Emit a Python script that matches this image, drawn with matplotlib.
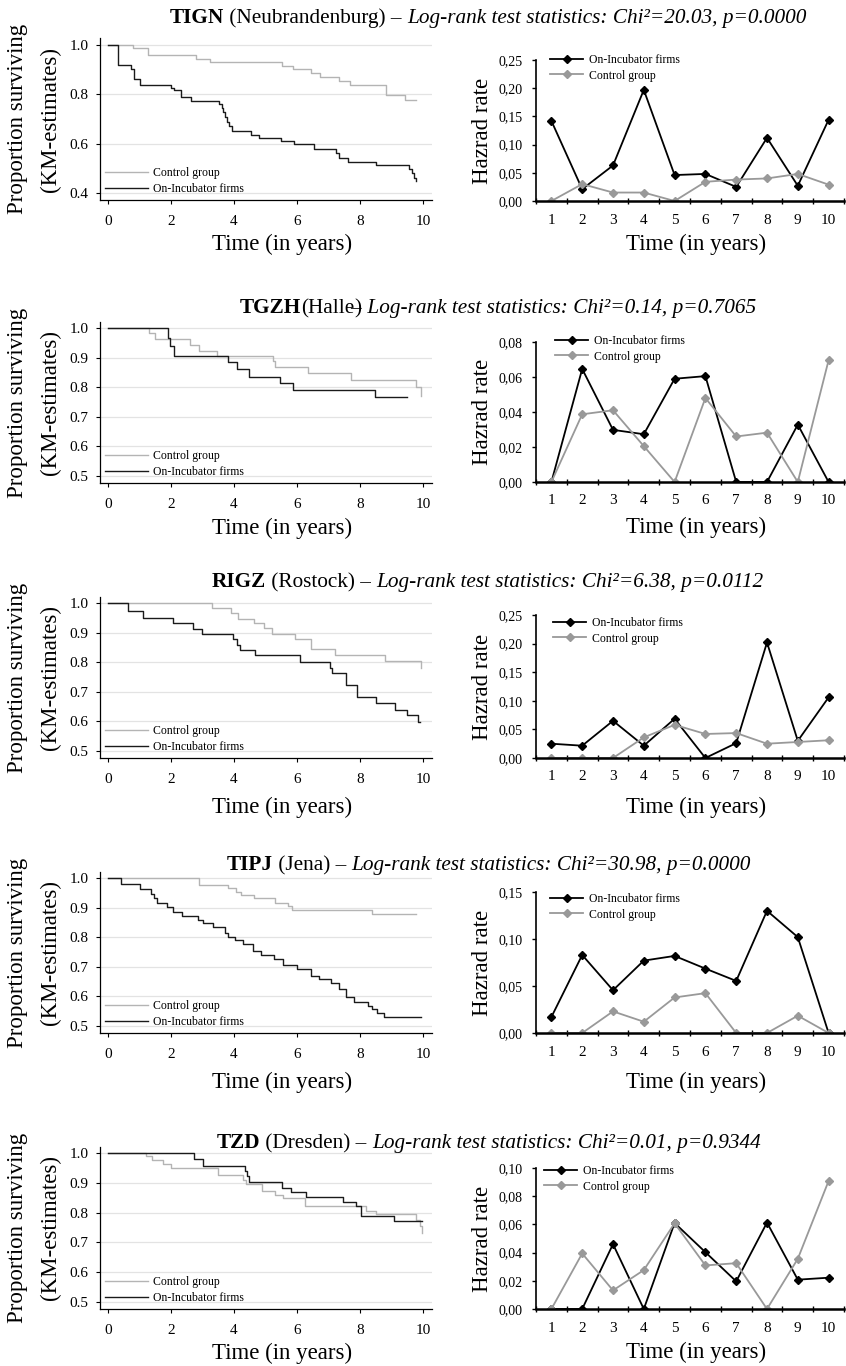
import matplotlib
matplotlib.use("Agg")
import matplotlib.pyplot as plt
from matplotlib.ticker import FuncFormatter, MultipleLocator, FixedLocator

plt.rcParams["font.family"] = ["Liberation Serif", "DejaVu Serif"]

W, H = 846, 1366

# ── Data ──────────────────────────────────────────────────────────────────────
YEARS = [1, 2, 3, 4, 5, 6, 7, 8, 9, 10]

# TIGN (Neubrandenburg)
TIGN_CTRL_T = [0, 0.80, 1.28, 2.81, 3.23, 5.53, 5.87, 6.45, 6.73, 7.34, 7.68, 8.82, 9.43, 9.79]
TIGN_CTRL_S = [1.0, 0.989, 0.958, 0.945, 0.931, 0.915, 0.901, 0.885, 0.869, 0.853, 0.836, 0.799, 0.777, 0.777]
TIGN_INC_T = [0, 0.33, 0.75, 0.83, 1.01, 1.99, 2.09, 2.31, 2.63, 3.54, 3.61, 3.66, 3.73, 3.78, 3.86,
              3.95, 4.55, 4.81, 5.50, 5.90, 6.55, 7.24, 7.34, 7.61, 8.50, 9.56, 9.66, 9.71, 9.77]
TIGN_INC_S = [1.0, 0.918, 0.901, 0.863, 0.839, 0.827, 0.818, 0.791, 0.774, 0.759, 0.746, 0.728, 0.709,
              0.688, 0.672, 0.653, 0.636, 0.624, 0.611, 0.597, 0.580, 0.564, 0.543, 0.526, 0.512,
              0.496, 0.480, 0.462, 0.449]
TIGN_HAZ_INC = [0.142, 0.021, 0.063, 0.197, 0.046, 0.048, 0.025, 0.112, 0.027, 0.144]
TIGN_HAZ_CTRL = [0.0, 0.030, 0.015, 0.015, 0.0, 0.034, 0.038, 0.040, 0.048, 0.029]

# TGZH (Halle)
TGZH_CTRL_T = [0, 1.31, 1.50, 2.61, 2.89, 3.45, 5.23, 5.30, 6.34, 7.71, 9.79, 9.95]
TGZH_CTRL_S = [1.0, 0.983, 0.964, 0.944, 0.924, 0.907, 0.887, 0.868, 0.848, 0.825, 0.800, 0.771]
TGZH_INC_T = [0, 1.90, 1.97, 2.10, 3.80, 4.09, 4.49, 5.46, 5.88, 8.47, 9.49]
TGZH_INC_S = [1.0, 0.966, 0.940, 0.907, 0.884, 0.861, 0.834, 0.814, 0.789, 0.766, 0.766]
TGZH_HAZ_INC = [0.0, 0.0646, 0.0298, 0.0273, 0.059, 0.0605, 0.0, 0.0, 0.0328, 0.0]
TGZH_HAZ_CTRL = [0.0, 0.0387, 0.041, 0.0205, 0.0, 0.048, 0.026, 0.0282, 0.0, 0.0696]

# RIGZ (Rostock)
RIGZ_CTRL_T = [0, 3.32, 3.90, 4.12, 4.65, 4.95, 5.20, 5.93, 6.46, 7.20, 8.79, 9.95]
RIGZ_CTRL_S = [1.0, 0.983, 0.966, 0.947, 0.932, 0.915, 0.895, 0.879, 0.844, 0.825, 0.805, 0.779]
RIGZ_INC_T = [0, 0.65, 1.11, 2.06, 2.69, 3.00, 3.98, 4.10, 4.19, 4.67, 6.10, 7.05, 7.12, 7.57,
              7.92, 8.52, 9.10, 9.49, 9.84, 9.92]
RIGZ_INC_S = [1.0, 0.974, 0.951, 0.932, 0.913, 0.895, 0.878, 0.859, 0.842, 0.823, 0.800, 0.781,
              0.762, 0.723, 0.681, 0.661, 0.640, 0.621, 0.598, 0.598]
RIGZ_HAZ_INC = [0.025, 0.0215, 0.065, 0.0215, 0.0686, 0.0, 0.026, 0.202, 0.030, 0.106]
RIGZ_HAZ_CTRL = [0.0, 0.0, 0.0, 0.036, 0.058, 0.042, 0.0436, 0.025, 0.028, 0.031]

# TIPJ (Jena)
TIPJ_CTRL_T = [0, 2.90, 3.81, 4.07, 4.23, 4.63, 5.32, 5.71, 5.84, 8.40, 9.77]
TIPJ_CTRL_S = [1.0, 0.976, 0.965, 0.954, 0.942, 0.931, 0.916, 0.906, 0.893, 0.878, 0.878]
TIPJ_INC_T = [0, 0.41, 1.02, 1.36, 1.45, 1.57, 1.87, 2.08, 2.34, 2.87, 3.03, 3.35, 3.72, 3.82,
              4.02, 4.28, 4.60, 4.86, 5.28, 5.55, 6.02, 6.45, 6.71, 7.08, 7.34, 7.55, 7.82,
              8.27, 8.40, 8.55, 8.77, 9.93]
TIPJ_INC_S = [1.0, 0.981, 0.964, 0.946, 0.932, 0.917, 0.901, 0.886, 0.873, 0.858, 0.847, 0.835,
              0.813, 0.801, 0.789, 0.778, 0.755, 0.739, 0.728, 0.705, 0.691, 0.668, 0.658,
              0.647, 0.625, 0.599, 0.582, 0.568, 0.557, 0.545, 0.532, 0.532]
TIPJ_HAZ_INC = [0.017, 0.083, 0.0455, 0.077, 0.082, 0.0685, 0.0554, 0.130, 0.102, 0.0]
TIPJ_HAZ_CTRL = [0.0, 0.0, 0.023, 0.012, 0.0378, 0.0424, 0.0, 0.0, 0.0184, 0.0]

# TZD (Dresden)
TZD_CTRL_T = [0, 1.20, 1.39, 1.76, 2.00, 3.50, 4.28, 4.40, 4.88, 5.30, 5.56, 6.25, 8.20, 8.52,
              9.79, 9.92, 9.98]
TZD_CTRL_S = [1.0, 0.989, 0.977, 0.963, 0.949, 0.927, 0.910, 0.896, 0.874, 0.859, 0.848, 0.821,
              0.806, 0.795, 0.775, 0.755, 0.730]
TZD_INC_T = [0, 2.75, 3.03, 4.35, 4.43, 4.48, 5.54, 5.80, 6.28, 7.47, 7.89, 8.03, 9.08, 9.98]
TZD_INC_S = [1.0, 0.979, 0.956, 0.941, 0.922, 0.902, 0.883, 0.868, 0.853, 0.836, 0.821, 0.789,
             0.772, 0.772]
TZD_HAZ_INC = [0.0, 0.0, 0.046, 0.0, 0.061, 0.0403, 0.0196, 0.0613, 0.0208, 0.0222]
TZD_HAZ_CTRL = [0.0, 0.0394, 0.0132, 0.0276, 0.0608, 0.0309, 0.0325, 0.0, 0.0356, 0.0908]

CENTRES = ["TIGN", "TGZH", "RIGZ", "TIPJ", "TZD"]
CITIES = [" (Neubrandenburg) – ", "(Halle", " (Rostock) – ", " (Jena) – ", " (Dresden) – "]
STATS = ["Log-rank test statistics: Chi²=20.03, p=0.0000",
         " Log-rank test statistics: Chi²=0.14, p=0.7065",
         "Log-rank test statistics: Chi²=6.38, p=0.0112",
         "Log-rank test statistics: Chi²=30.98, p=0.0000",
         "Log-rank test statistics: Chi²=0.01, p=0.9344"]

KM_DATA = [
    (TIGN_CTRL_T, TIGN_CTRL_S, TIGN_INC_T, TIGN_INC_S),
    (TGZH_CTRL_T, TGZH_CTRL_S, TGZH_INC_T, TGZH_INC_S),
    (RIGZ_CTRL_T, RIGZ_CTRL_S, RIGZ_INC_T, RIGZ_INC_S),
    (TIPJ_CTRL_T, TIPJ_CTRL_S, TIPJ_INC_T, TIPJ_INC_S),
    (TZD_CTRL_T, TZD_CTRL_S, TZD_INC_T, TZD_INC_S),
]
HAZ_DATA = [
    (TIGN_HAZ_INC, TIGN_HAZ_CTRL),
    (TGZH_HAZ_INC, TGZH_HAZ_CTRL),
    (RIGZ_HAZ_INC, RIGZ_HAZ_CTRL),
    (TIPJ_HAZ_INC, TIPJ_HAZ_CTRL),
    (TZD_HAZ_INC, TZD_HAZ_CTRL),
]
HAZ_TOP = [0.25, 0.08, 0.25, 0.15, 0.10]
HAZ_STEP = [0.05, 0.02, 0.05, 0.05, 0.02]

# ── Layout (pixels) ───────────────────────────────────────────────────────────
KM_X = (100, 432)
HZ_X = (536, 844)
KM_Y = [(38, 200), (322, 483), (597, 758), (872, 1033), (1147, 1309)]
HZ_Y = [(60, 201), (342, 482), (615, 758), (892, 1033), (1168, 1309)]
KM_YLIM = [(0.3716, 1.0286)] + [(0.4764, 1.0203)] * 4
KM_YTICKS = [[0.4, 0.6, 0.8, 1.0]] + [[0.5, 0.6, 0.7, 0.8, 0.9, 1.0]] * 4
TITLE_POS = [(170, 23), (240, 313), (212, 587), (227, 870), (217, 1148)]
XLAB_Y = [(244, 244), (528, 527), (807, 807), (1082, 1082), (1353, 1352)]
HZ_LEG = [(550, 2), (555, 1), (553, 10), (550, 9), (544, 5)]

LIGHT = "#b4b4b4"
DARK = "#1a1a1a"
HZ_GREY = "#999999"
LSIZE = 16.5


def rect(x, y):
    return [x[0] / W, 1 - y[1] / H, (x[1] - x[0]) / W, (y[1] - y[0]) / H]


fig = plt.figure(figsize=(W / 100, H / 100), dpi=100)

for i in range(5):
    ct, cs, it, is_ = KM_DATA[i]
    top, bot = KM_Y[i]

    # ── Kaplan-Meier panel
    ax = fig.add_axes(rect(KM_X, KM_Y[i]))
    ax.step(ct, cs, where="post", color=LIGHT, lw=1.0, label="Control group")
    ax.step(it, is_, where="post", color=DARK, lw=1.0, label="On-Incubator firms")
    ax.set_xlim(-0.25, 10.29)
    ax.set_ylim(*KM_YLIM[i])
    ax.set_xticks([0, 2, 4, 6, 8, 10])
    ax.set_yticks(KM_YTICKS[i])
    ax.yaxis.set_major_formatter(FuncFormatter(lambda v, p: f"{v:.1f}"))
    for s in ("top", "right"):
        ax.spines[s].set_visible(False)
    for s in ("left", "bottom"):
        ax.spines[s].set_linewidth(0.9)
    ax.grid(axis="y", color="#e3e3e3", lw=0.9)
    ax.set_axisbelow(True)
    ax.tick_params(axis="both", direction="out", length=3, width=0.8, labelsize=11)
    ax.tick_params(axis="x", pad=8)
    ax.tick_params(axis="y", pad=5.5)
    ax.set_ylabel("Proportion surviving\n(KM-estimates)", fontsize=LSIZE, ha="center",
                  va="center", linespacing=1.75)
    ax.yaxis.set_label_coords((34 - KM_X[0]) / (KM_X[1] - KM_X[0]), 0.5)
    ax.set_xlabel("Time (in years)", fontsize=LSIZE, va="center")
    ax.xaxis.set_label_coords((282 - KM_X[0]) / (KM_X[1] - KM_X[0]),
                              (bot - XLAB_Y[i][0]) / (bot - top))
    ax.legend(loc="lower left", frameon=False, fontsize=8.5, handlelength=3.6,
              handletextpad=0.5, labelspacing=0.3, borderpad=0, borderaxespad=0,
              bbox_to_anchor=(5 / (KM_X[1] - KM_X[0]), 5 / (bot - top)))

    # ── Hazard rate panel
    hi, hc = HAZ_DATA[i]
    htop, hbot = HZ_Y[i]
    hx = fig.add_axes(rect(HZ_X, HZ_Y[i]))
    hx.plot(YEARS, hi, color="black", lw=1.3, marker="D", ms=4.2, label="On-Incubator firms")
    hx.plot(YEARS, hc, color=HZ_GREY, lw=1.3, marker="D", ms=4.2, label="Control group")
    hx.set_xlim(0.5, 10.5)
    hx.set_ylim(0, HAZ_TOP[i])
    hx.set_xticks(YEARS)
    hx.xaxis.set_minor_locator(FixedLocator([y - 0.5 for y in YEARS] + [10.5]))
    hx.yaxis.set_major_locator(MultipleLocator(HAZ_STEP[i]))
    hx.yaxis.set_major_formatter(FuncFormatter(lambda v, p: f"{v:.2f}".replace(".", ",")))
    for s in ("top", "right"):
        hx.spines[s].set_visible(False)
    hx.spines["left"].set_linewidth(1.2)
    hx.spines["bottom"].set_linewidth(1.8)
    hx.tick_params(axis="x", which="major", length=0, pad=9, labelsize=11)
    hx.tick_params(axis="x", which="minor", direction="inout", length=5, width=1.0)
    hx.tick_params(axis="y", direction="out", length=3, width=1.0, pad=6.5, labelsize=10)
    hx.set_ylabel("Hazrad rate", fontsize=LSIZE, ha="center", va="center")
    hx.yaxis.set_label_coords((482 - HZ_X[0]) / (HZ_X[1] - HZ_X[0]), 0.5)
    hx.set_xlabel("Time (in years)", fontsize=LSIZE, va="center")
    hx.xaxis.set_label_coords((696 - HZ_X[0]) / (HZ_X[1] - HZ_X[0]),
                              (hbot - XLAB_Y[i][1]) / (hbot - htop))
    lx, ly = HZ_LEG[i]
    hx.legend(loc="upper left", frameon=False, fontsize=8.5, handlelength=2.8,
              handletextpad=0.5, labelspacing=0.3, borderpad=0, borderaxespad=0,
              bbox_to_anchor=((lx - HZ_X[0]) / (HZ_X[1] - HZ_X[0]),
                              1 + (8 - ly) / (hbot - htop)))

# ── Row titles (mixed bold / roman / italic on one baseline)
ov = fig.add_axes([0, 0, 1, 1], zorder=10)
ov.axis("off")
TSIZE = 15.3
for i in range(5):
    x0, base = TITLE_POS[i]
    yb = H - base
    t1 = ov.annotate(CENTRES[i], xy=(x0, yb), xycoords="figure pixels", ha="left",
                     va="baseline", fontsize=TSIZE, fontweight="bold")
    t2 = ov.annotate(CITIES[i], xy=(1, yb), xycoords=(t1, "figure pixels"), ha="left",
                     va="baseline", fontsize=TSIZE)
    prev = t2
    if CENTRES[i] == "TGZH":
        t2b = ov.annotate(")", xy=(1, yb), xycoords=(t2, "figure pixels"), ha="left",
                          va="baseline", fontsize=TSIZE)
        ov.annotate("–", xy=(0.2, yb), xycoords=(t2b, "figure pixels"), ha="center",
                    va="baseline", fontsize=TSIZE)
        prev = t2b
    ov.annotate(STATS[i], xy=(1, yb), xycoords=(prev, "figure pixels"), ha="left",
                va="baseline", fontsize=TSIZE, fontstyle="italic")

fig.savefig("out.png", dpi=100)
